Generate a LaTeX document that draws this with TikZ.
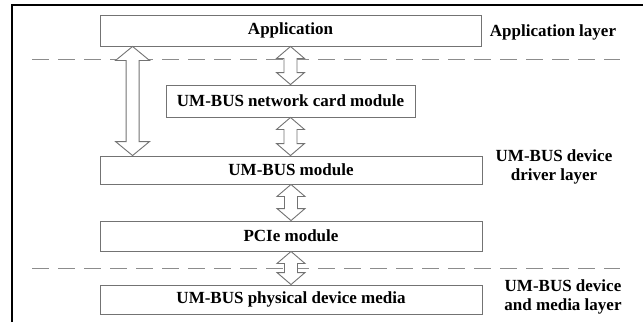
\documentclass[tikz,border=0pt]{standalone}
\usepackage{fontspec}
\setmainfont{Liberation Serif}
\usetikzlibrary{calc}

% Hollow vertical double-headed arrow.
% #1 top point, #2 bottom point, #3 half width of the heads, #4 head length
\newcommand\hollowdbl[4]{%
  \draw[arrowline] let \p1=#1, \p2=#2 in
    (\x1,\y1) -- (\x1+#3,\y1-#4) -- (\x1+6.5pt,\y1-#4) -- (\x1+6.5pt,\y2+#4)
    -- (\x1+#3,\y2+#4) -- (\x1,\y2) -- (\x1-#3,\y2+#4) -- (\x1-6.5pt,\y2+#4)
    -- (\x1-6.5pt,\y1-#4) -- (\x1-#3,\y1-#4) -- cycle;}

\begin{document}
\begin{tikzpicture}[x=1pt,y=-1pt,
  every node/.style={font=\fontsize{17}{19}\selectfont\bfseries, inner sep=0pt},
  modbox/.style={draw=black!55, line width=0.9pt, fill=white},
  arrowline/.style={draw=black!55, line width=0.9pt, fill=white},
  layerline/.style={draw=black!45, line width=0.9pt, dash pattern=on 17pt off 9pt},
  layertext/.style={align=center}]
  \useasboundingbox (0,0) rectangle (643,322);

  % outer frame (top and left edges)
  \draw[line width=2pt] (12,322) -- (12,5) -- (643,5);

  % layer separators
  \draw[layerline] (32,59) -- (620,59);
  \draw[layerline] (32,268) -- (620,268);

  % modules
  \node[modbox, minimum width=381pt, minimum height=31pt] (app) at (290.5,30.5) {Application};
  \node[modbox, minimum width=249pt, minimum height=32pt] (net) at (290.5,101) {UM-BUS network card module};
  \node[modbox, minimum width=382pt, minimum height=28pt] (um)  at (291,170) {UM-BUS module};
  \node[modbox, minimum width=382pt, minimum height=30pt] (pcie) at (291,236) {PCIe module};
  \node[modbox, minimum width=382pt, minimum height=29pt] (phy) at (291,299.5) {UM-BUS physical device media};

  % layer names
  \node[layertext] (lapp) at (553,32) {Application layer};
  \node[layertext] (ldrv) at (554,167) {UM-BUS device\\driver layer};
  \node[layertext] (lmed) at (563,297) {UM-BUS device\\and media layer};

  % data paths between modules
  \hollowdbl{($(app.south west)+(33pt,0)$)}{($(um.north west)+(33pt,0)$)}{17pt}{14pt}
  \hollowdbl{(app.south)}{(net.north)}{14pt}{12pt}
  \hollowdbl{(net.south)}{(um.north)}{14pt}{12pt}
  \hollowdbl{(um.south)}{(pcie.north)}{14pt}{12pt}
  \hollowdbl{(pcie.south)}{(phy.north)}{14pt}{12pt}
\end{tikzpicture}
\end{document}
